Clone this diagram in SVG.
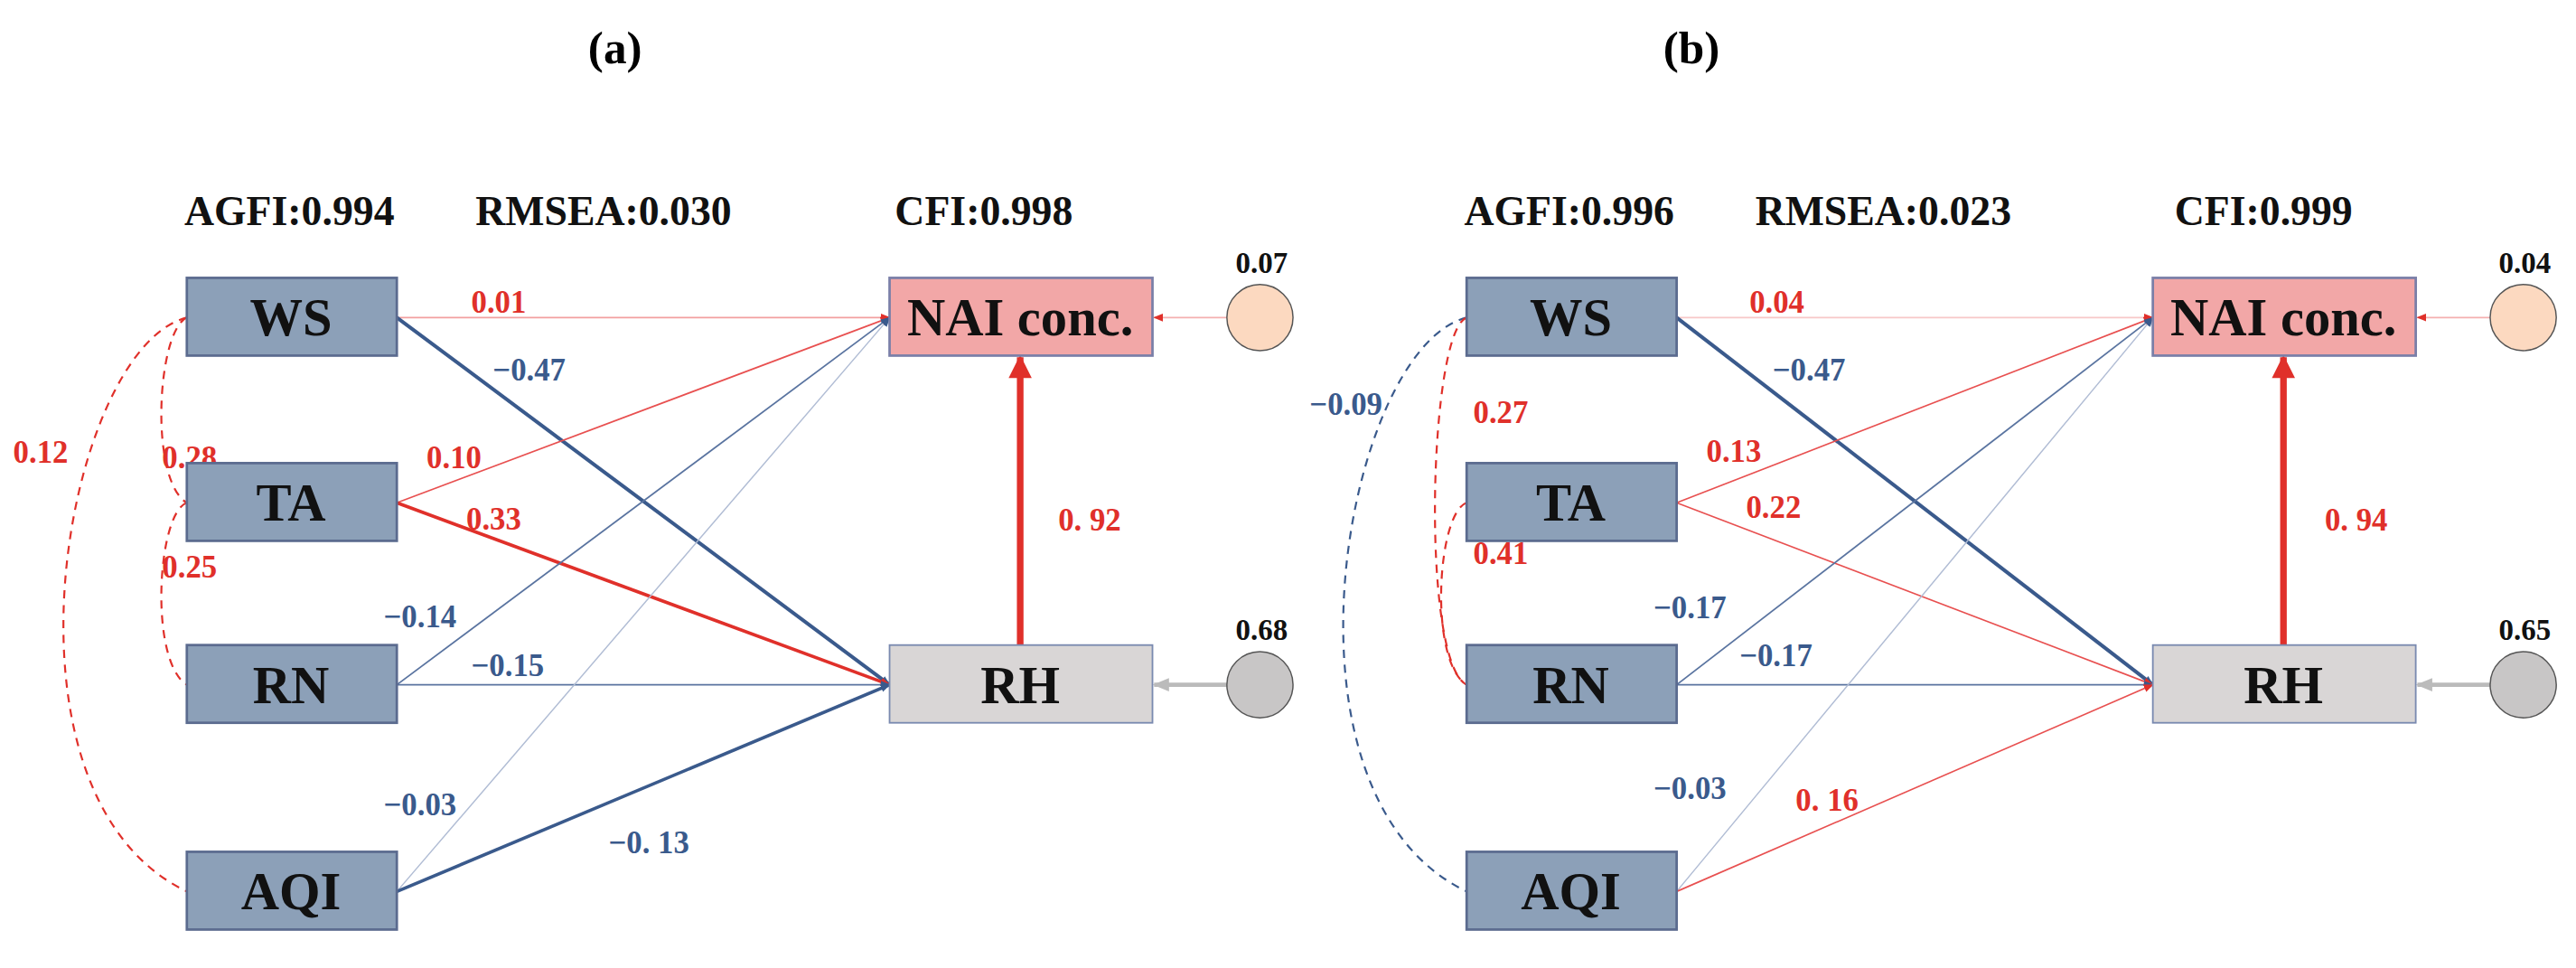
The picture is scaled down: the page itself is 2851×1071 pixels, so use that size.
<svg xmlns="http://www.w3.org/2000/svg" width="2851" height="1071" viewBox="0 0 2851 1071">
<defs>
<style>
text{font-family:"Liberation Serif","Times New Roman",serif;font-weight:bold}
.t{font-size:28px;fill:#000;text-anchor:middle}
.m{font-size:25px;fill:#111;text-anchor:middle}
.bx{font-size:32px;fill:#111;text-anchor:middle}
.r{font-size:19px;fill:#e0302a}
.b{font-size:19px;fill:#3a5a8c}
.k{font-size:18px;fill:#111;text-anchor:middle}
.box{fill:#8ca0b8;stroke:#5b6b8f;stroke-width:1.5}
.nai{fill:#f2a7a7;stroke:#7a7fa8;stroke-width:1.5}
.rh{fill:#d9d6d6;stroke:#7a8ab0;stroke-width:1}
.dr{fill:none;stroke:#e0302a;stroke-width:1.2;stroke-dasharray:5 4}
.db{fill:none;stroke:#3a5a8c;stroke-width:1.2;stroke-dasharray:5 4}
</style>
<marker id="ar" viewBox="0 0 10 10" refX="9" refY="5" markerWidth="6" markerHeight="6" orient="auto" markerUnits="userSpaceOnUse"><path d="M0,1 L10,5 L0,9 z" fill="#e0302a"/></marker>
<marker id="ab" viewBox="0 0 10 10" refX="9" refY="5" markerWidth="6" markerHeight="6" orient="auto" markerUnits="userSpaceOnUse"><path d="M0,1 L10,5 L0,9 z" fill="#3a5a8c"/></marker>
<marker id="abig" viewBox="0 0 10 10" refX="9" refY="5" markerWidth="16" markerHeight="14" orient="auto" markerUnits="userSpaceOnUse"><path d="M0,0 L10,5 L0,10 z" fill="#e0302a"/></marker>
<marker id="ag" viewBox="0 0 10 10" refX="9" refY="5" markerWidth="10" markerHeight="10" orient="auto" markerUnits="userSpaceOnUse"><path d="M0,1 L10,5 L0,9 z" fill="#bbb"/></marker>
</defs>
<rect width="2851" height="1071" fill="#fff"/>
<g transform="scale(1.83)">
<!-- Panel a -->
<g id="a-text">
<text class="t" x="372" y="38">(a)</text>
<text class="m" x="175" y="136">AGFI:0.994</text>
<text class="m" x="365" y="136">RMSEA:0.030</text>
<text class="m" x="595" y="136">CFI:0.998</text>
</g>
<g id="a-connectors">
<line x1="240" y1="192" x2="538" y2="192" stroke="#f2a0a0" stroke-width="1" marker-end="url(#ar)"/>
<line x1="240" y1="192" x2="538" y2="414" stroke="#3a5a8c" stroke-width="2.2" marker-end="url(#ab)"/>
<line x1="240" y1="304" x2="538" y2="192" stroke="#e85050" stroke-width="0.9" marker-end="url(#ar)"/>
<line x1="240" y1="304" x2="538" y2="414" stroke="#e0302a" stroke-width="2" marker-end="url(#ar)"/>
<line x1="240" y1="414" x2="538" y2="192" stroke="#5a74a0" stroke-width="1" marker-end="url(#ab)"/>
<line x1="240" y1="414" x2="538" y2="414" stroke="#5a74a0" stroke-width="1" marker-end="url(#ab)"/>
<line x1="240" y1="539" x2="538" y2="192" stroke="#b0bcd4" stroke-width="0.8" marker-end="url(#ab)"/>
<line x1="240" y1="539" x2="538" y2="414" stroke="#3a5a8c" stroke-width="2" marker-end="url(#ab)"/>
<line x1="617" y1="390" x2="617" y2="216" stroke="#e0302a" stroke-width="4" marker-end="url(#abig)"/>
<line x1="742" y1="192" x2="698" y2="192" stroke="#f4b0b0" stroke-width="1" marker-end="url(#ar)"/>
<line x1="742" y1="414" x2="698" y2="414" stroke="#bbb" stroke-width="2.5" marker-end="url(#ag)"/>
<path class="dr" d="M113,192 C40,210 -10,480 113,539"/>
<path class="dr" d="M113,192 C95,200 90,290 113,304"/>
<path class="dr" d="M113,304 C95,310 90,400 113,414"/>
<text class="r" x="285" y="189">0.01</text>
<text class="b" x="298" y="230">−0.47</text>
<text class="r" x="258" y="283">0.10</text>
<text class="r" x="282" y="320">0.33</text>
<text class="b" x="232" y="379">−0.14</text>
<text class="b" x="285" y="409">−0.15</text>
<text class="b" x="232" y="493">−0.03</text>
<text class="b" x="368" y="516">−0. 13</text>
<text class="r" x="640" y="321">0. 92</text>
<text class="r" x="8" y="280">0.12</text>
<text class="r" x="98" y="283">0.28</text>
<text class="r" x="98" y="349">0.25</text>
</g>
<g id="a-WS"><rect class="box" x="113" y="168" width="127" height="47"/><text class="bx" x="176" y="203">WS</text></g>
<g id="a-TA"><rect class="box" x="113" y="280" width="127" height="47"/><text class="bx" x="176" y="315">TA</text></g>
<g id="a-RN"><rect class="box" x="113" y="390" width="127" height="47"/><text class="bx" x="176" y="425">RN</text></g>
<g id="a-AQI"><rect class="box" x="113" y="515" width="127" height="47"/><text class="bx" x="176" y="550">AQI</text></g>
<g id="a-NAI"><rect class="nai" x="538" y="168" width="159" height="47"/><text class="bx" x="617" y="203">NAI conc.</text></g>
<g id="a-RH"><rect class="rh" x="538" y="390" width="159" height="47"/><text class="bx" x="617" y="425">RH</text></g>
<g id="a-e1"><circle cx="762" cy="192" r="20" fill="#fcd9c0" stroke="#555" stroke-width="0.8"/><text class="k" x="763" y="165">0.07</text></g>
<g id="a-e2"><circle cx="762" cy="414" r="20" fill="#c8c6c6" stroke="#555" stroke-width="0.8"/><text class="k" x="763" y="387">0.68</text></g>

<!-- Panel b -->
<g transform="translate(774,0)">
<g id="b-text">
<text class="t" x="249" y="38">(b)</text>
<text class="m" x="175" y="136">AGFI:0.996</text>
<text class="m" x="365" y="136">RMSEA:0.023</text>
<text class="m" x="595" y="136">CFI:0.999</text>
</g>
<g id="b-connectors">
<line x1="240" y1="192" x2="528" y2="192" stroke="#f8c8c8" stroke-width="1" marker-end="url(#ar)"/>
<line x1="240" y1="192" x2="528" y2="414" stroke="#3a5a8c" stroke-width="2.2" marker-end="url(#ab)"/>
<line x1="240" y1="304" x2="528" y2="192" stroke="#e85050" stroke-width="0.9" marker-end="url(#ar)"/>
<line x1="240" y1="304" x2="528" y2="414" stroke="#e85050" stroke-width="0.9" marker-end="url(#ar)"/>
<line x1="240" y1="414" x2="528" y2="192" stroke="#5a74a0" stroke-width="1" marker-end="url(#ab)"/>
<line x1="240" y1="414" x2="528" y2="414" stroke="#5a74a0" stroke-width="1" marker-end="url(#ab)"/>
<line x1="240" y1="539" x2="528" y2="192" stroke="#b0bcd4" stroke-width="0.8" marker-end="url(#ab)"/>
<line x1="240" y1="539" x2="528" y2="414" stroke="#e85050" stroke-width="0.9" marker-end="url(#ar)"/>
<line x1="607" y1="390" x2="607" y2="216" stroke="#e0302a" stroke-width="4" marker-end="url(#abig)"/>
<line x1="732" y1="192" x2="688" y2="192" stroke="#f4b0b0" stroke-width="1" marker-end="url(#ar)"/>
<line x1="732" y1="414" x2="688" y2="414" stroke="#bbb" stroke-width="2.5" marker-end="url(#ag)"/>
<path class="db" d="M113,192 C40,210 -10,480 113,539"/>
<path class="dr" d="M113,192 C90,200 85,400 113,414"/>
<path class="dr" d="M113,304 C95,310 90,400 113,414"/>
<text class="r" x="284" y="189">0.04</text>
<text class="b" x="298" y="230">−0.47</text>
<text class="r" x="258" y="279">0.13</text>
<text class="r" x="282" y="313">0.22</text>
<text class="b" x="226" y="374">−0.17</text>
<text class="b" x="278" y="403">−0.17</text>
<text class="b" x="226" y="483">−0.03</text>
<text class="r" x="312" y="490">0. 16</text>
<text class="r" x="632" y="321">0. 94</text>
<text class="b" x="18" y="251">−0.09</text>
<text class="r" x="117" y="256">0.27</text>
<text class="r" x="117" y="341">0.41</text>
</g>
<g id="b-WS"><rect class="box" x="113" y="168" width="127" height="47"/><text class="bx" x="176" y="203">WS</text></g>
<g id="b-TA"><rect class="box" x="113" y="280" width="127" height="47"/><text class="bx" x="176" y="315">TA</text></g>
<g id="b-RN"><rect class="box" x="113" y="390" width="127" height="47"/><text class="bx" x="176" y="425">RN</text></g>
<g id="b-AQI"><rect class="box" x="113" y="515" width="127" height="47"/><text class="bx" x="176" y="550">AQI</text></g>
<g id="b-NAI"><rect class="nai" x="528" y="168" width="159" height="47"/><text class="bx" x="607" y="203">NAI conc.</text></g>
<g id="b-RH"><rect class="rh" x="528" y="390" width="159" height="47"/><text class="bx" x="607" y="425">RH</text></g>
<g id="b-e1"><circle cx="752" cy="192" r="20" fill="#fcd9c0" stroke="#555" stroke-width="0.8"/><text class="k" x="753" y="165">0.04</text></g>
<g id="b-e2"><circle cx="752" cy="414" r="20" fill="#c8c6c6" stroke="#555" stroke-width="0.8"/><text class="k" x="753" y="387">0.65</text></g>
</g>
</g>
</svg>
